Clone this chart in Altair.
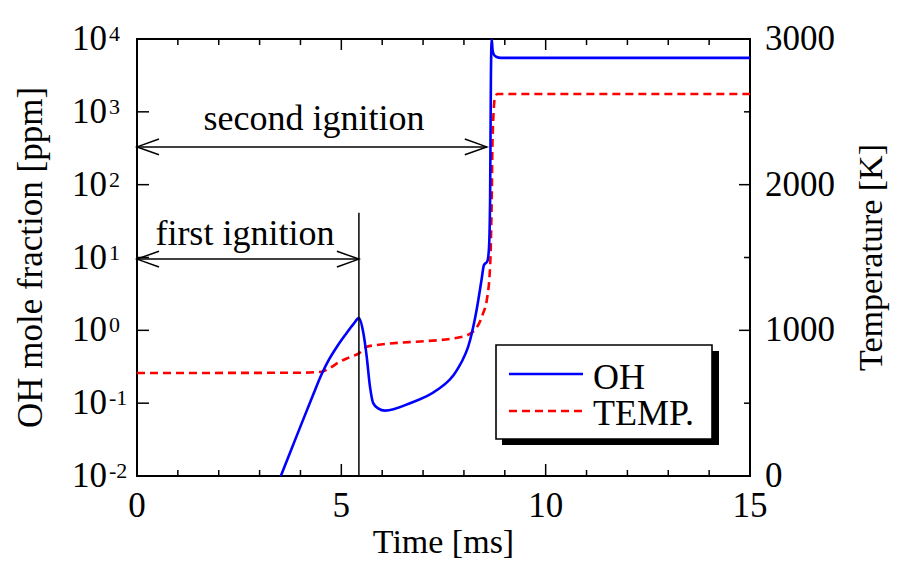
import altair as alt
import pandas as pd

FONT = "Liberation Serif"
W, H = 613, 437

# ---- data ----
oh_t = [3.52, 3.8, 4.0, 4.3, 4.52, 4.7, 4.9, 5.1, 5.3, 5.43, 5.54, 5.62, 5.70, 5.78, 5.9, 6.07,
        6.68, 7.33, 7.82, 8.15, 8.31, 8.43, 8.49, 8.57, 8.61, 8.64, 8.66, 8.68, 8.70, 8.74, 8.79, 8.9, 15.0]
oh_v = [0.01, 0.025, 0.048, 0.126, 0.251, 0.398, 0.603, 0.871, 1.23, 1.47, 0.91, 0.44, 0.17, 0.10, 0.085, 0.079,
        0.10, 0.15, 0.28, 0.73, 1.9, 4.9, 7.9, 8.8, 12.6, 60, 3000, 10000, 7100, 6000, 5700, 5500, 5500]

temp_t = [0, 4.0, 4.52, 4.72, 4.96, 5.2, 5.43, 5.62, 5.86, 6.43, 6.84, 7.9, 8.22, 8.47, 8.56, 8.64,
          8.68, 8.70, 8.76, 8.82, 15.0]
temp_v = [707, 709, 716, 741, 785, 815, 842, 887, 899, 915, 922, 952, 990, 1118, 1208, 1437,
          1894, 2306, 2600, 2622, 2622]

arrow_start = [0, 0]
arrow_end = [5.43, 8.56]
arrow_y = [9.5, 330]

vline_t = [5.43]
vline_y1 = [0.01]
vline_y2 = [41]

annot_t = [2.64, 4.33]
annot_y = [15, 560]
annot_text = ["first ignition", "second ignition"]

x_major = [0, 5, 10, 15]
x_minor = [1, 2, 3, 4, 6, 7, 8, 9, 11, 12, 13, 14]
x_labels = ["0", "5", "10", "15"]

y_decades = [0.01, 0.1, 1, 10, 100, 1000, 10000]
y_exps = ["-2", "-1", "0", "1", "2", "3", "4"]

t_major = [0, 1000, 2000, 3000]
t_minor = [500, 1500, 2500]
t_labels = ["0", "1000", "2000", "3000"]

legend_names = ["OH", "TEMP."]

# ---- tables ----
df_oh = pd.DataFrame({"t": oh_t, "v": oh_v})
df_temp = pd.DataFrame({"t": temp_t, "v": temp_v})
df_arrow = pd.DataFrame({"x1": arrow_start, "x2": arrow_end, "y": arrow_y})
df_vline = pd.DataFrame({"t": vline_t, "y1": vline_y1, "y2": vline_y2})
df_annot = pd.DataFrame({"t": annot_t, "v": annot_y, "label": annot_text})
df_xmaj = pd.DataFrame({"t": x_major, "label": x_labels})
df_xmin = pd.DataFrame({"t": x_minor})
df_ydec = pd.DataFrame({"v": y_decades, "exp": y_exps})
df_tmaj = pd.DataFrame({"v": t_major, "label": t_labels})
df_tmin = pd.DataFrame({"v": t_minor})
one = pd.DataFrame({"a": [0]})

xs = alt.Scale(domain=[0, 15], nice=False)
ylog = alt.Scale(type="log", domain=[0.01, 10000], nice=False)
ylin = alt.Scale(domain=[0, 3000], nice=False, zero=False)


def X(f="t"):
    return alt.X(f"{f}:Q", scale=xs, axis=None)


def YL(f="v"):
    return alt.Y(f"{f}:Q", scale=ylog, axis=None)


def YT(f="v"):
    return alt.Y(f"{f}:Q", scale=ylin, axis=None)


layers = []

# data curves
layers.append(alt.Chart(df_temp).mark_line(color="#ff0000", strokeWidth=2.6, strokeDash=[8, 5],
                                           interpolate="monotone", clip=True)
              .encode(x=X(), y=YT()))
layers.append(alt.Chart(df_oh).mark_line(color="#0000ff", strokeWidth=2.6,
                                         interpolate="monotone", clip=True)
              .encode(x=X(), y=YL()))

# annotation vertical line and arrows
layers.append(alt.Chart(df_vline).mark_rule(color="black", strokeWidth=1.5)
              .encode(x=X(), y=YL("y1"), y2="y2:Q"))
layers.append(alt.Chart(df_arrow).mark_rule(color="black", strokeWidth=1.5)
              .encode(x=X("x1"), x2="x2:Q", y=YL("y")))
layers.append(alt.Chart(df_arrow).mark_point(shape="M1,-0.36L0,0L1,0.36", size=1936, filled=False,
                                             color="black", strokeWidth=1.5, opacity=1)
              .encode(x=X("x1"), y=YL("y")))
layers.append(alt.Chart(df_arrow).mark_point(shape="M-1,-0.36L0,0L-1,0.36", size=1936, filled=False,
                                             color="black", strokeWidth=1.5, opacity=1)
              .encode(x=X("x2"), y=YL("y")))
layers.append(alt.Chart(df_annot).mark_text(font=FONT, fontSize=36, align="center",
                                            baseline="alphabetic", color="black")
              .encode(x=X(), y=YL(), text="label:N"))

# ticks (inward)
layers.append(alt.Chart(df_xmaj).mark_rule(color="black", strokeWidth=1.5)
              .encode(x=X(), y=alt.value(H), y2=alt.value(H - 12)))
layers.append(alt.Chart(df_xmin).mark_rule(color="black", strokeWidth=1.5)
              .encode(x=X(), y=alt.value(H), y2=alt.value(H - 6)))
layers.append(alt.Chart(df_xmaj).mark_rule(color="black", strokeWidth=1.5)
              .encode(x=X(), y=alt.value(0), y2=alt.value(11)))
layers.append(alt.Chart(df_xmin).mark_rule(color="black", strokeWidth=1.5)
              .encode(x=X(), y=alt.value(0), y2=alt.value(6)))
layers.append(alt.Chart(df_ydec).mark_rule(color="black", strokeWidth=1.5)
              .encode(y=YL(), x=alt.value(0), x2=alt.value(12)))
layers.append(alt.Chart(df_tmaj).mark_rule(color="black", strokeWidth=1.5)
              .encode(y=YT(), x=alt.value(W), x2=alt.value(W - 11)))
layers.append(alt.Chart(df_tmin).mark_rule(color="black", strokeWidth=1.5)
              .encode(y=YT(), x=alt.value(W), x2=alt.value(W - 6)))

# tick labels
layers.append(alt.Chart(df_xmaj).mark_text(font=FONT, fontSize=35, align="center", baseline="middle",
                                           color="black")
              .encode(x=X(), y=alt.value(H + 30), text="label:N"))
layers.append(alt.Chart(df_ydec).mark_text(font=FONT, fontSize=35, align="left", baseline="middle",
                                           color="black")
              .encode(y=YL(), x=alt.value(-65), text=alt.value("10")))
layers.append(alt.Chart(df_ydec).mark_text(font=FONT, fontSize=22, align="left", baseline="alphabetic",
                                           dy=2, color="black")
              .encode(y=YL(), x=alt.value(-28), text="exp:N"))
layers.append(alt.Chart(df_tmaj).mark_text(font=FONT, fontSize=35, align="left", baseline="middle",
                                           color="black")
              .encode(y=YT(), x=alt.value(W + 15), text="label:N"))

# axis titles
layers.append(alt.Chart(one).mark_text(font=FONT, fontSize=34, align="center", baseline="middle",
                                       color="black")
              .encode(x=alt.value(W / 2), y=alt.value(H + 67), text=alt.value("Time [ms]")))
layers.append(alt.Chart(one).mark_text(font=FONT, fontSize=35, align="center", baseline="middle",
                                       angle=270, color="black")
              .encode(x=alt.value(-106), y=alt.value(H / 2), text=alt.value("OH mole fraction [ppm]")))
layers.append(alt.Chart(one).mark_text(font=FONT, fontSize=34, align="center", baseline="middle",
                                       angle=270, color="black")
              .encode(x=alt.value(735), y=alt.value(H / 2), text=alt.value("Temperature [K]")))

# legend box
layers.append(alt.Chart(one).mark_rect(color="black")
              .encode(x=alt.value(365), x2=alt.value(582), y=alt.value(312), y2=alt.value(406)))
layers.append(alt.Chart(one).mark_rect(fill="white", stroke="black", strokeWidth=1.6)
              .encode(x=alt.value(359), x2=alt.value(575), y=alt.value(306), y2=alt.value(400)))
layers.append(alt.Chart(one).mark_rule(color="#0000ff", strokeWidth=2.6)
              .encode(x=alt.value(372), x2=alt.value(446), y=alt.value(335)))
layers.append(alt.Chart(one).mark_rule(color="#ff0000", strokeWidth=2.6, strokeDash=[8, 5])
              .encode(x=alt.value(372), x2=alt.value(446), y=alt.value(372)))
layers.append(alt.Chart(one).mark_text(font=FONT, fontSize=36, align="left", baseline="alphabetic",
                                       color="black")
              .encode(x=alt.value(456), y=alt.value(350), text=alt.value(legend_names[0])))
layers.append(alt.Chart(one).mark_text(font=FONT, fontSize=36, align="left", baseline="alphabetic",
                                       color="black")
              .encode(x=alt.value(456), y=alt.value(386), text=alt.value(legend_names[1])))

chart = (
    alt.layer(*layers)
    .resolve_scale(y="independent")
    .properties(
        width=W,
        height=H,
        autosize=alt.AutoSizeParams(type="none"),
        padding={"left": 129, "top": 31, "right": 141, "bottom": 86},
        background="white",
    )
    .configure_view(stroke="black", strokeWidth=2)
)

chart.save("out.html", embed_options={"renderer": "svg", "actions": False})
